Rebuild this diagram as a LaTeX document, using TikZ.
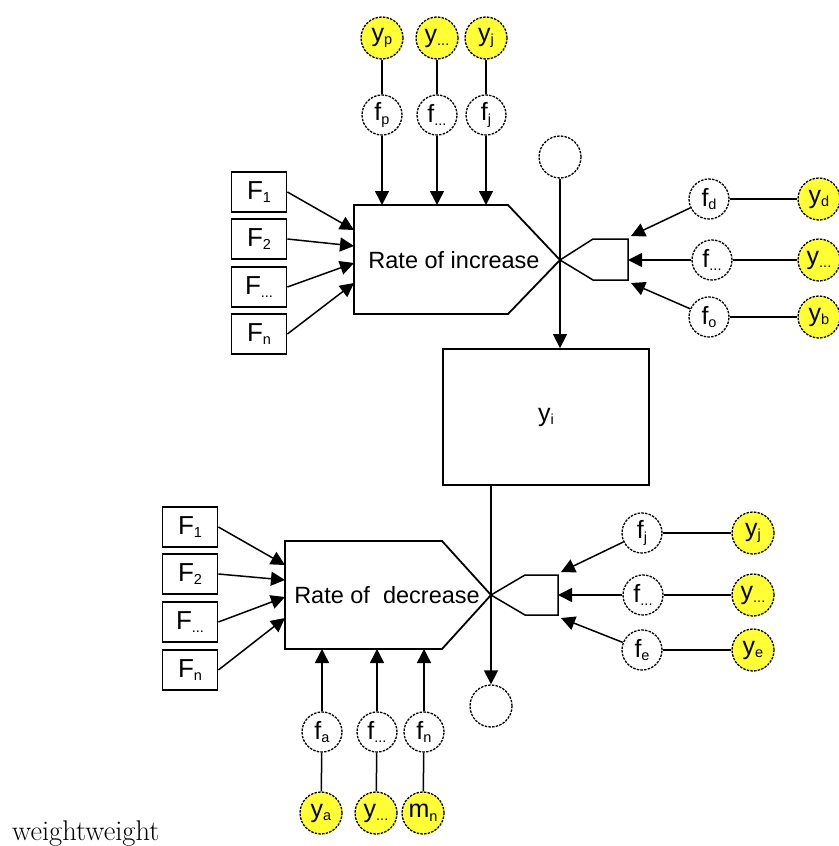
\documentclass[tikz,border=0pt]{standalone}
\usepackage{fontspec}
\newfontfamily\arial{Liberation Sans}
\usetikzlibrary{arrows.meta}
\definecolor{ycirc}{RGB}{255,255,51}
% letter with a lowered small index
\newcommand{\sublbl}[2]{#1\raisebox{-3.5pt}{\fontsize{14.5}{14.5}\selectfont #2}}
\tikzset{
  dashpat/.style={dash pattern=on 2.5pt off 1.2pt, line width=1.3pt},
  lbl/.style={font=\arial\fontsize{25}{28}\selectfont},
  ynode/.style={circle, draw, dashpat, fill=ycirc, minimum size=42pt, inner sep=0pt, lbl},
  fnode/.style={circle, draw, dashpat, fill=white, minimum size=40pt, inner sep=0pt, lbl},
  emptynode/.style={circle, draw, dashpat, fill=white, minimum size=42pt, inner sep=0pt},
  fbox/.style={draw, line width=1.8pt, minimum width=55pt, minimum height=40pt, inner sep=0pt,
    font=\arial\fontsize{26}{28}\selectfont},
  conn/.style={line width=1.5pt},
  arr/.style={conn, -{Triangle[length=14pt,width=14pt]}},
  ratebox/.style={draw, line width=1.8pt, line join=miter},
  ratetext/.style={font=\arial\fontsize{23.5}{26}\selectfont, inner sep=0pt},
}
\begin{document}
\begin{tikzpicture}[x=1pt,y=-1pt]
\useasboundingbox (0,0) rectangle (838,846);

% ---------- upper block: rate of increase ----------
\coordinate (iA) at (354,205);
\coordinate (iB) at (508,205);
\coordinate (iX) at (560,260);
\coordinate (iC) at (508,314);
\coordinate (iD) at (354,314);
\draw[ratebox] (iA) -- (iB) -- (iX) -- (iC) -- (iD) -- cycle;
\node[ratetext] (inc) at (454,260) {Rate of increase};

% bracket to the right of the crossing
\coordinate (iU) at (593,239);
\coordinate (iUe) at (628,239);
\coordinate (iL) at (593,280);
\coordinate (iLe) at (628,280);
\draw[conn] (iX) -- (iU) -- (iUe) -- (iLe) -- (iL) -- cycle;

% top inputs
\node[ynode] (yp) at (382,38) {\sublbl{y}{p}};
\node[ynode] (yt) at (437,38) {\sublbl{y}{...}};
\node[ynode] (yj) at (486,38) {\sublbl{y}{j}};
\node[fnode] (fp) at (382,115) {\sublbl{f}{p}};
\node[fnode] (ft) at (437,115) {\sublbl{f}{...}};
\node[fnode] (fj) at (486,115) {\sublbl{f}{j}};
\draw[conn] (yp) -- (fp);
\draw[conn] (yt) -- (ft);
\draw[conn] (yj) -- (fj);
\coordinate (ip) at (382,205);
\coordinate (it) at (437,205);
\coordinate (ij) at (486,205);
\draw[arr] (fp) -- (ip);
\draw[arr] (ft) -- (it);
\draw[arr] (fj) -- (ij);

% left inputs
\node[fbox] (F1) at (259,192) {\sublbl{F}{1}};
\node[fbox] (F2) at (259,239) {\sublbl{F}{2}};
\node[fbox] (F3) at (259,287) {\sublbl{F}{...}};
\node[fbox] (F4) at (259,334) {\sublbl{F}{n}};
\coordinate (e1) at (354,230);
\coordinate (e2) at (354,246);
\coordinate (e3) at (354,263);
\coordinate (e4) at (354,283);
\draw[arr] (F1.east) -- (e1);
\draw[arr] (F2.east) -- (e2);
\draw[arr] (F3.east) -- (e3);
\draw[arr] (F4.east) -- (e4);

% right inputs
\node[fnode] (fd) at (709,199) {\sublbl{f}{d}};
\node[fnode] (fr) at (712,260) {\sublbl{f}{...}};
\node[fnode] (fo) at (709,317) {\sublbl{f}{o}};
\node[ynode] (yd) at (819,199) {\sublbl{y}{d}};
\node[ynode] (yr) at (819,260) {\sublbl{y}{...}};
\node[ynode] (yb) at (819,317) {\sublbl{y}{b}};
\draw[conn] (fd) -- (yd);
\draw[conn] (fr) -- (yr);
\draw[conn] (fo) -- (yb);
\coordinate (rU) at (631,236);
\coordinate (rM) at (628,260);
\coordinate (rL) at (631,283);
\draw[arr] (fd) -- (rU);
\draw[arr] (fr) -- (rM);
\draw[arr] (fo) -- (rL);

% source and state
\node[emptynode] (src) at (560,157) {};
\node[draw, line width=1.8pt, minimum width=206pt, minimum height=136pt, lbl] (yi) at (546,417) {\sublbl{y}{i}};
\draw[arr] (src.south) -- (src.south |- yi.north);

% ---------- lower block: rate of decrease ----------
\coordinate (dA) at (285,541);
\coordinate (dB) at (442,541);
\coordinate (dX) at (491,595);
\coordinate (dC) at (442,649);
\coordinate (dD) at (285,649);
\draw[ratebox] (dA) -- (dB) -- (dX) -- (dC) -- (dD) -- cycle;
\node[ratetext] (dec) at (387,595) {Rate of~ decrease};

\coordinate (dU) at (525,575);
\coordinate (dUe) at (558,575);
\coordinate (dL) at (525,615);
\coordinate (dLe) at (558,615);
\draw[conn] (dX) -- (dU) -- (dUe) -- (dLe) -- (dL) -- cycle;

% sink
\node[emptynode] (snk) at (491,706) {};
\draw[arr] (snk.north |- yi.south) -- (snk.north);

% left inputs
\node[fbox] (G1) at (190,527) {\sublbl{F}{1}};
\node[fbox] (G2) at (190,574) {\sublbl{F}{2}};
\node[fbox] (G3) at (190,622) {\sublbl{F}{...}};
\node[fbox] (G4) at (190,670) {\sublbl{F}{n}};
\coordinate (g1) at (285,565);
\coordinate (g2) at (285,580);
\coordinate (g3) at (285,597);
\coordinate (g4) at (285,618);
\draw[arr] (G1.east) -- (g1);
\draw[arr] (G2.east) -- (g2);
\draw[arr] (G3.east) -- (g3);
\draw[arr] (G4.east) -- (g4);

% bottom inputs
\node[fnode] (fa) at (322,732) {\sublbl{f}{a}};
\node[fnode] (fb) at (377,732) {\sublbl{f}{...}};
\node[fnode] (fn) at (424,732) {\sublbl{f}{n}};
\node[ynode] (ya) at (321,813) {\sublbl{y}{a}};
\node[ynode] (yv) at (376,813) {\sublbl{y}{...}};
\node[ynode] (mn) at (423,813) {\sublbl{m}{n}};
\draw[conn] (fa) -- (ya);
\draw[conn] (fb) -- (yv);
\draw[conn] (fn) -- (mn);
\coordinate (ba) at (322,649);
\coordinate (bb) at (377,649);
\coordinate (bn) at (424,649);
\draw[arr] (fa) -- (ba);
\draw[arr] (fb) -- (bb);
\draw[arr] (fn) -- (bn);

% right inputs
\node[fnode] (fj2) at (642,533) {\sublbl{f}{j}};
\node[fnode] (fq) at (643,595) {\sublbl{f}{...}};
\node[fnode] (fe) at (642,650) {\sublbl{f}{e}};
\node[ynode] (yj2) at (753,533) {\sublbl{y}{j}};
\node[ynode] (yq) at (753,595) {\sublbl{y}{...}};
\node[ynode] (ye) at (753,650) {\sublbl{y}{e}};
\draw[conn] (fj2) -- (yj2);
\draw[conn] (fq) -- (yq);
\draw[conn] (fe) -- (ye);
\coordinate (sU) at (561,572);
\coordinate (sM) at (558,595);
\coordinate (sL) at (561,618);
\draw[arr] (fj2) -- (sU);
\draw[arr] (fq) -- (sM);
\draw[arr] (fe) -- (sL);

% caption text
\node[anchor=base west, inner sep=0pt, font=\fontsize{28.5}{32}\selectfont] (wt) at (12,840) {weightweight};
\end{tikzpicture}
\end{document}
